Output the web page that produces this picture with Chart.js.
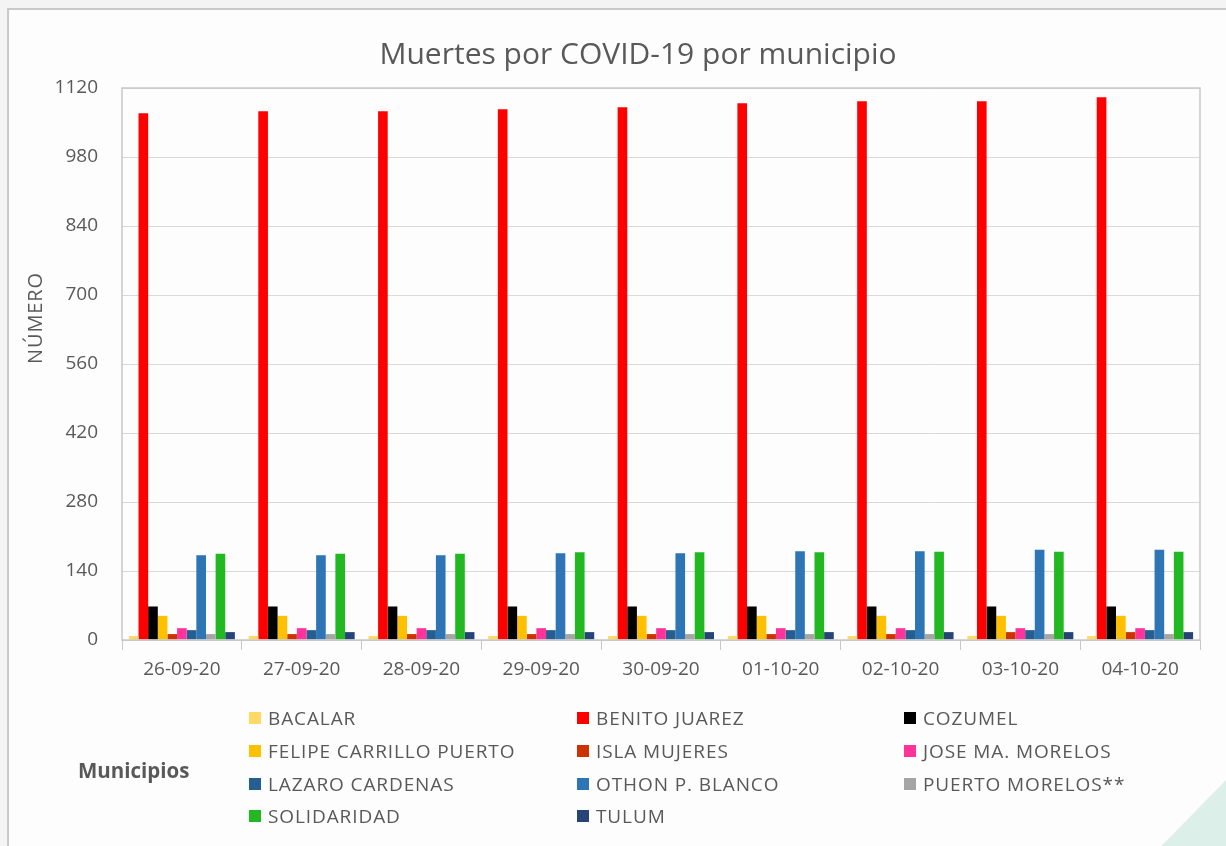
<!DOCTYPE html>
<html>
<head>
<meta charset="utf-8">
<script src="https://cdn.jsdelivr.net/npm/chart.js@4.4.1/dist/chart.umd.min.js"></script>
<style>
  html, body { margin: 0; padding: 0; background: #f4f4f4; overflow: hidden; }
  #card {
    position: absolute; left: 7px; top: 8px; width: 1230px; height: 850px;
    background: #fdfdfd; border: 2px solid #c9c9c9; box-sizing: border-box;
  }
  #corner {
    position: absolute; left: 1150px; top: 780px; width: 76px; height: 66px;
    background: #dcefe8; clip-path: polygon(100% 0, 100% 100%, 15% 100%);
  }
  #wrap { position: absolute; left: 0; top: 0; width: 1226px; height: 846px; }
  #overlay {
    position: absolute; left: 0; top: 0; width: 1226px; height: 846px;
    font-family: "Open Sans", sans-serif; color: #595959; pointer-events: none;
  }
  #title {
    position: absolute; left: 638px; top: 52px; font-size: 30px; white-space: nowrap;
    transform: translate(-50%, -50%);
  }
  .item { position: absolute; font-size: 19px; letter-spacing: 0.9px; white-space: nowrap; }
  .item span.box { display: inline-block; width: 12px; height: 12px; margin-right: 7px; vertical-align: 1px; }
  #legTitle { position: absolute; left: 78px; top: 756px; font-size: 20.5px; font-weight: bold; }
  #yTitle {
    position: absolute; left: 34px; top: 318px; font-size: 20px; letter-spacing: 0.9px;
    transform: translate(-50%, -50%) rotate(-90deg); white-space: nowrap;
  }
</style>
</head>
<body>
<div id="card"></div>
<div id="corner"></div>
<div id="wrap"><canvas id="chart" width="1226" height="846"></canvas></div>
<div id="overlay">
  <div id="title">Muertes por COVID-19 por municipio</div>
  <div id="legTitle">Municipios</div>
  <div id="yTitle">NÚMERO</div>
</div>
<script>
// fechas
const fechas = ["26-09-20", "27-09-20", "28-09-20", "29-09-20", "30-09-20", "01-10-20", "02-10-20", "03-10-20", "04-10-20"];

// muertes por municipio
const bacalar        = [8, 8, 8, 8, 8, 8, 8, 8, 8];
const benitoJuarez   = [1069, 1073, 1073, 1077, 1081, 1089, 1093, 1093, 1101];
const cozumel        = [68, 68, 68, 68, 68, 68, 68, 68, 68];
const felipeCarrillo = [49, 49, 49, 49, 49, 49, 49, 49, 49];
const islaMujeres    = [12, 12, 12, 12, 12, 12, 12, 16, 16];
const joseMaMorelos  = [24, 24, 24, 24, 24, 24, 24, 24, 24];
const lazaroCardenas = [20, 20, 20, 20, 20, 20, 20, 20, 20];
const othonPBlanco   = [172, 172, 172, 176, 176, 180, 180, 183, 183];
const puertoMorelos  = [12, 12, 12, 12, 12, 12, 12, 12, 12];
const solidaridad    = [175, 175, 175, 178, 178, 178, 179, 179, 179];
const tulum          = [16, 16, 16, 16, 16, 16, 16, 16, 16];

const yTicks = [0, 140, 280, 420, 560, 700, 840, 980, 1120];

const series = [
    { label: "BACALAR", data: bacalar, color: "#ffd966" },
    { label: "BENITO JUAREZ", data: benitoJuarez, color: "#ff0000" },
    { label: "COZUMEL", data: cozumel, color: "#000000" },
    { label: "FELIPE CARRILLO PUERTO", data: felipeCarrillo, color: "#ffc000" },
    { label: "ISLA MUJERES", data: islaMujeres, color: "#cc3300" },
    { label: "JOSE MA. MORELOS", data: joseMaMorelos, color: "#ff3399" },
    { label: "LAZARO CARDENAS", data: lazaroCardenas, color: "#255e91" },
    { label: "OTHON P. BLANCO", data: othonPBlanco, color: "#2e75b6" },
    { label: "PUERTO MORELOS**", data: puertoMorelos, color: "#a5a5a5" },
    { label: "SOLIDARIDAD", data: solidaridad, color: "#22b822" },
    { label: "TULUM", data: tulum, color: "#264478" },
];

// legend laid out in 3 columns like the original
const overlay = document.getElementById("overlay");
const colX = [249, 577, 904];
const rowY = [705, 738, 771, 803];
series.forEach((s, i) => {
    const div = document.createElement("div");
    div.className = "item";
    div.style.left = colX[i % 3] + "px";
    div.style.top = rowY[Math.floor(i / 3)] + "px";
    div.innerHTML = '<span class="box" style="background:' + s.color + '"></span>' + s.label;
    overlay.appendChild(div);
});

// border around plot area
const plotBorder = {
    id: "plotBorder",
    afterDatasetsDraw(chart) {
        const { ctx, chartArea: a } = chart;
        ctx.save();
        ctx.strokeStyle = "#c8c8c8";
        ctx.lineWidth = 1.5;
        ctx.strokeRect(a.left, a.top, a.right - a.left, a.bottom - a.top);
        ctx.restore();
    }
};

new Chart(document.getElementById("chart"), {
    type: "bar",
    data: {
        labels: fechas,
        datasets: series.map((s) => ({
            label: s.label,
            data: s.data,
            backgroundColor: s.color,
            categoryPercentage: 0.885,
            barPercentage: 1.0,
        })),
    },
    options: {
        responsive: false,
        animation: false,
        layout: { padding: { left: 22, right: 26, top: 88, bottom: 156 } },
        plugins: {
            legend: { display: false },
            tooltip: { enabled: false },
        },
        scales: {
            x: {
                grid: { offset: true, drawOnChartArea: false, color: "#c8c8c8", tickLength: 10 },
                border: { color: "#c8c8c8" },
                ticks: { color: "#595959", font: { family: "Open Sans", size: 19 }, padding: 8 },
                afterFit(scale) { scale.height = 50; },
            },
            y: {
                min: 0,
                max: 1120,
                afterBuildTicks(scale) { scale.ticks = yTicks.map((v) => ({ value: v })); },
                grid: { color: "#d9d9d9", drawTicks: false },
                border: { display: false },
                ticks: {
                    color: "#595959",
                    font: { family: "Open Sans", size: 19 },
                    padding: 24,
                    callback: (v) => String(v),
                },
                afterFit(scale) { scale.width = 100; },
            },
        },
    },
    plugins: [plotBorder],
});
</script>
</body>
</html>
